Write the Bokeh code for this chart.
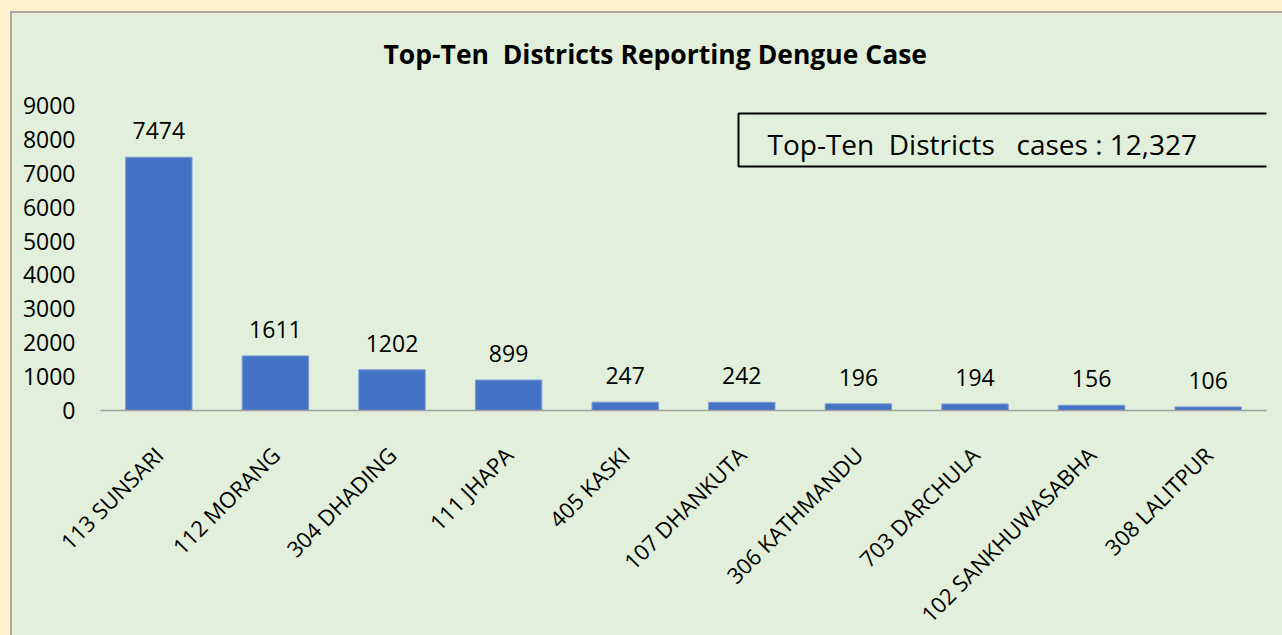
import math
from bokeh.plotting import figure
from bokeh.models import (ColumnDataSource, FactorRange, Range1d, FixedTicker,
                          LabelSet, Label, BoxAnnotation, Title)
from bokeh.layouts import column
from bokeh.core.properties import value
from bokeh.embed import file_html
from bokeh.resources import INLINE

districts = ["113 SUNSARI", "112 MORANG", "304 DHADING", "111 JHAPA", "405 KASKI",
             "107 DHANKUTA", "306 KATHMANDU", "703 DARCHULA", "102 SANKHUWASABHA",
             "308 LALITPUR"]
cases = [7474, 1611, 1202, 899, 247, 242, 196, 194, 156, 106]
y_ticks = [0, 1000, 2000, 3000, 4000, 5000, 6000, 7000, 8000, 9000]
title_text = "Top-Ten\u00a0 Districts Reporting Dengue Case"
summary_text = "Top-Ten\u00a0 Districts\u00a0\u00a0 cases : 12,327"

GREEN = "#E2EFDA"
CREAM = "#FFF2CC"
BLUE = "#4472C4"
FONT = "Open Sans"

src = ColumnDataSource(dict(district=districts, cases=cases,
                            label=[str(c) for c in cases]))

p = figure(width=1270, height=622, frame_width=1164, frame_height=303,
           x_range=FactorRange(*districts, range_padding=0),
           y_range=Range1d(0, 9000),
           output_backend="svg", toolbar_location=None,
           min_border_left=88, min_border_right=18,
           min_border_top=92, min_border_bottom=225,
           background_fill_color=GREEN, border_fill_color=GREEN,
           outline_line_color=None)
p.styles = {"border-left": "2px solid #A6A6A6", "border-top": "2px solid #A6A6A6"}
p.title = None

# invisible spacer between the title and the plot frame
p.add_layout(Title(text=" ", text_font_size="12px", standoff=13,
                   text_color=GREEN), "above")
p.add_layout(Title(text=title_text, align="left", offset=283, standoff=10,
                   text_font=FONT, text_font_style="bold", text_font_size="26.5px",
                   text_color="#000000"), "above")

p.vbar(x="district", top="cases", width=0.57, source=src,
       fill_color=BLUE, line_color="#7F9FD9", line_width=1)

labels = LabelSet(x="district", y="cases", text="label", source=src,
                  y_offset=18, text_align="center", text_baseline="alphabetic",
                  text_font_size="23px", text_font=value(FONT), text_color="#000000")
p.add_layout(labels)

p.xgrid.grid_line_color = None
p.ygrid.grid_line_color = None

p.yaxis.ticker = FixedTicker(ticks=y_ticks)
p.yaxis.axis_line_color = None
p.yaxis.major_tick_out = 0
p.yaxis.major_tick_in = 0
p.yaxis.minor_tick_out = 0
p.yaxis.minor_tick_in = 0
p.yaxis.major_label_standoff = 25
p.yaxis.major_label_text_font = FONT
p.yaxis.major_label_text_font_size = "23px"
p.yaxis.major_label_text_color = "#000000"

p.xaxis.axis_line_color = "#A0A0A0"
p.xaxis.axis_line_width = 1.5
p.xaxis.major_tick_out = 0
p.xaxis.major_tick_in = 0
p.xaxis.major_label_orientation = math.pi / 4
p.xaxis.major_label_standoff = 40
p.xaxis.major_label_text_font = FONT
p.xaxis.major_label_text_font_size = "22px"
p.xaxis.major_label_text_color = "#000000"

# summary box (frame-relative screen units, y measured up from the frame bottom)
box = BoxAnnotation(left=638, right=4000, top=297, bottom=244,
                    left_units="screen", right_units="screen",
                    top_units="screen", bottom_units="screen",
                    fill_alpha=0, line_color="#000000", line_alpha=1.0,
                    line_width=2, level="annotation")
p.add_layout(box)
cover = BoxAnnotation(left=1150, right=4000, top=295.5, bottom=245.5,
                      left_units="screen", right_units="screen",
                      top_units="screen", bottom_units="screen",
                      fill_color=GREEN, fill_alpha=1, line_color=None,
                      level="annotation")
p.add_layout(cover)
p.add_layout(Label(x=667, y=267, x_units="screen", y_units="screen",
                   text=summary_text, text_baseline="middle",
                   text_font=FONT, text_font_size="28px", text_color="#000000"))

page = column(p, styles={"background-color": CREAM,
                         "padding-left": "10px", "padding-top": "11px"})

open("out.html", "w").write(file_html(page, INLINE))
